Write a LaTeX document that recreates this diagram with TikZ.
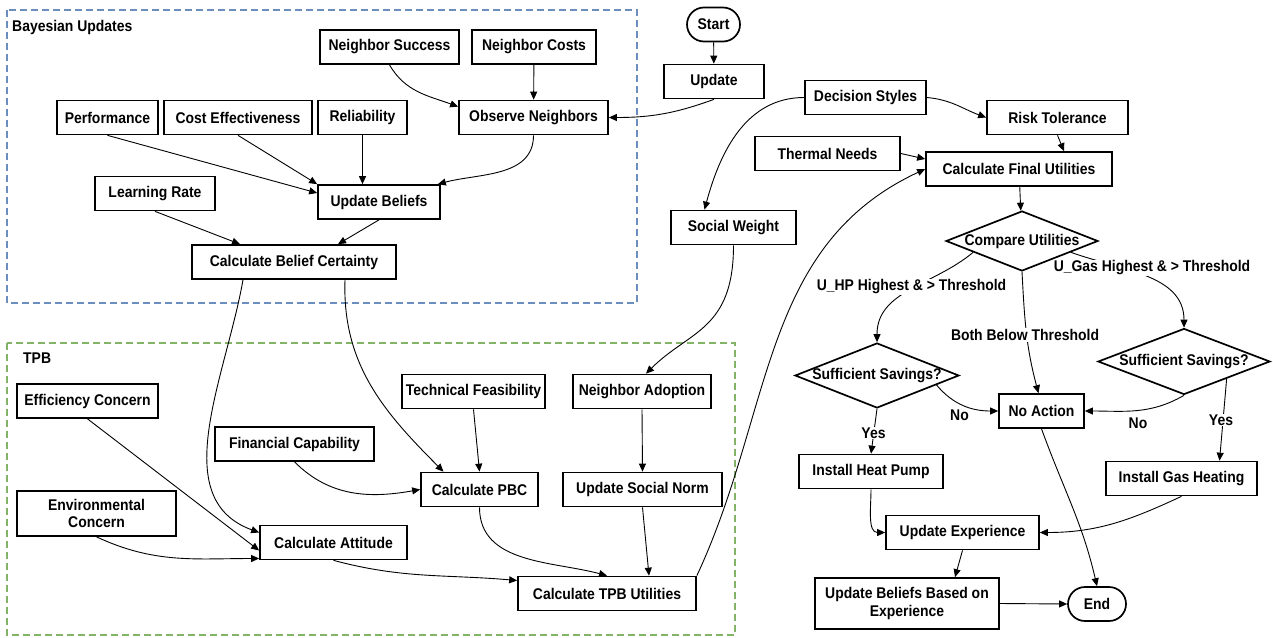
\documentclass[tikz,border=0pt]{standalone}
\usepackage{fontspec}
\setmainfont{Liberation Sans}[FakeStretch=0.9]
\usetikzlibrary{arrows.meta,shapes.geometric}
\definecolor{bayesblue}{HTML}{6C8EBF}
\definecolor{tpbgreen}{HTML}{82B366}

\begin{document}
\begin{tikzpicture}[x=1pt,y=1pt]
\tikzset{
  flowbox/.style={rectangle,draw=black,line width=1.7pt,minimum height=34pt,inner xsep=2pt,inner ysep=1pt,align=center,font=\bfseries\fontsize{15.5}{17.5}\selectfont},
  terminal/.style={flowbox,rounded corners=17pt},
  decision/.style={diamond,draw=black,line width=1.7pt,inner sep=0pt,font=\bfseries\fontsize{15.5}{17.5}\selectfont},
  grouplabel/.style={anchor=west,inner sep=0pt,font=\bfseries\fontsize{15.5}{17.5}\selectfont},
  edgelabel/.style={fill=white,inner sep=1pt,font=\bfseries\fontsize{15.5}{17.5}\selectfont},
  flowedge/.style={draw=black,line width=0.9pt},
  directed/.style={flowedge,-{Triangle[length=8pt,width=7pt]}},
  groupframe/.style={line width=1.5pt,dash pattern=on 7pt off 4pt}
}
\useasboundingbox (0,0) rectangle (1273,-637);
\draw[groupframe,draw=bayesblue] (7,-10) rectangle (637,-303);
\draw[groupframe,draw=tpbgreen] (7,-343) rectangle (735,-635);
\node[grouplabel] (g_bayes) at (12,-27) {Bayesian Updates};
\node[grouplabel] (g_tpb) at (23,-358) {TPB};
\node[flowbox,minimum width=139pt] (n_nsucc) at (389.5,-47) {Neighbor Success};
\node[flowbox,minimum width=124pt] (n_ncost) at (534,-47) {Neighbor Costs};
\node[flowbox,minimum width=101pt] (n_perf) at (107.5,-117.5) {Performance};
\node[flowbox,minimum width=148pt] (n_costeff) at (238,-117.5) {Cost Effectiveness};
\node[flowbox,minimum width=89pt] (n_reli) at (362.5,-117.5) {Reliability};
\node[flowbox,minimum width=149pt] (n_obs) at (533.5,-117.5) {Observe Neighbors};
\node[flowbox,minimum width=120pt] (n_lrate) at (155,-193.5) {Learning Rate};
\node[flowbox,minimum width=122pt] (n_ubel) at (379,-202) {Update Beliefs};
\node[flowbox,minimum width=204pt] (n_bcert) at (294,-262) {Calculate Belief Certainty};
\node[terminal,minimum width=53pt] (n_start) at (713.5,-24.5) {Start};
\node[flowbox,minimum width=100pt] (n_update) at (714,-81.5) {Update};
\node[flowbox,minimum width=121pt] (n_dstyle) at (865.5,-97.5) {Decision Styles};
\node[flowbox,minimum width=141pt] (n_risk) at (1057.5,-117.5) {Risk Tolerance};
\node[flowbox,minimum width=145pt] (n_thermal) at (827.5,-153.5) {Thermal Needs};
\node[flowbox,minimum width=186pt] (n_final) at (1019,-169) {Calculate Final Utilities};
\node[flowbox,minimum width=125pt] (n_sweight) at (733.5,-227.5) {Social Weight};
\node[decision,minimum width=152pt,minimum height=60pt] (n_compare) at (1022,-241) {\makebox[0pt]{Compare Utilities}};
\node[flowbox,minimum width=141pt] (n_effc) at (87.5,-401) {Efficiency Concern};
\node[flowbox,minimum width=159pt,minimum height=45pt] (n_envc) at (96.5,-513.5) {Environmental\\Concern};
\node[flowbox,minimum width=159pt] (n_finc) at (294.5,-444) {Financial Capability};
\node[flowbox,minimum width=143pt] (n_techf) at (473.5,-391.5) {Technical Feasibility};
\node[flowbox,minimum width=138pt] (n_nadopt) at (642,-391.5) {Neighbor Adoption};
\node[flowbox,minimum width=117pt] (n_pbc) at (479.5,-489.5) {Calculate PBC};
\node[flowbox,minimum width=159pt] (n_snorm) at (642.5,-489.5) {Update Social Norm};
\node[flowbox,minimum width=147pt] (n_att) at (333.5,-542.5) {Calculate Attitude};
\node[flowbox,minimum width=178pt] (n_tpbu) at (607,-593.5) {Calculate TPB Utilities};
\node[decision,minimum width=164pt,minimum height=65pt] (n_suffhp) at (877,-375.5) {\makebox[0pt]{Sufficient Savings?}};
\node[decision,minimum width=172pt,minimum height=66pt] (n_suffgas) at (1184,-361.5) {\makebox[0pt]{Sufficient Savings?}};
\node[flowbox,minimum width=85pt] (n_noact) at (1041.5,-411) {No Action};
\node[flowbox,minimum width=144pt] (n_ihp) at (871,-471.5) {Install Heat Pump};
\node[flowbox,minimum width=151pt] (n_igas) at (1181.5,-478.5) {Install Gas Heating};
\node[flowbox,minimum width=153pt] (n_uexp) at (962.5,-532.5) {Update Experience};
\node[flowbox,minimum width=184pt,minimum height=51pt] (n_ubexp) at (907,-603.5) {Update Beliefs Based on\\Experience};
\node[terminal,minimum width=58pt] (n_end) at (1097,-604) {End};
\draw[directed] (n_start) -- (n_update);
\draw[directed] (n_update.south) to[out=200,in=0] (n_obs.east);
\draw[directed] (n_nsucc.south) to[out=-60,in=160] ([yshift=-7pt]n_obs.north west);
\draw[directed] (n_ncost) -- (n_obs);
\draw[directed] (n_perf.south) -- ([yshift=9pt]n_ubel.west);
\draw[directed] (n_costeff.south) -- (n_ubel.north west);
\draw[directed] (n_reli.south) -- (n_reli.south |- n_ubel.north);
\draw[directed] (n_obs.south) to[out=-90,in=15] ([xshift=-3pt]n_ubel.north east);
\draw[directed] (n_lrate.south) -- ([xshift=-54pt]n_bcert.north);
\draw[directed] (n_ubel.south) -- ([xshift=44pt]n_bcert.north);
\draw[directed] ([xshift=-51pt]n_bcert.south) to[out=-100,in=160] ([yshift=10pt]n_att.west);
\draw[directed] ([xshift=51pt]n_bcert.south) to[out=-92,in=135] ([xshift=-36pt]n_pbc.north);
\draw[directed] (n_dstyle.west) to[out=180,in=75] ([xshift=-29pt]n_sweight.north);
\draw[directed] (n_dstyle.east) to[out=-5,in=160] (n_risk.west);
\draw[directed] (n_risk.south) -- ([xshift=45pt]n_final.north);
\draw[directed] (n_thermal.east) -- ([yshift=10pt]n_final.west);
\draw[directed] (n_tpbu.north east) to[out=65,in=205] (n_final.west);
\draw[directed] (n_final) -- (n_compare);
\draw[directed] (n_sweight.south) to[out=-90,in=45,out looseness=1.4] ([xshift=4pt]n_nadopt.north);
\draw[directed] (n_effc.south) -- ([yshift=-8pt]n_att.west);
\draw[directed] (n_envc.south) to[out=-25,in=180] ([yshift=-16pt]n_att.west);
\draw[directed] (n_finc.south) to[out=-45,in=190] (n_pbc.west);
\draw[directed] (n_techf.south) -- (n_pbc.north);
\draw[directed] (n_nadopt.south) -- (n_snorm.north);
\draw[directed] (n_pbc.south) to[out=-90,in=165] (n_tpbu.north);
\draw[directed] (n_snorm.south) -- ([xshift=42pt]n_tpbu.north);
\draw[directed] (n_att.south) to[out=-15,in=175] ([yshift=13pt]n_tpbu.west);
\draw[directed] (n_compare.193) to[out=-140,in=90] (n_suffhp.north);
\draw[directed] (n_compare.-13) to[out=-20,in=90] (n_suffgas.north);
\draw[directed] (n_compare.south) to[out=-87,in=105] ([xshift=-3pt]n_noact.north);
\draw[directed] (n_suffhp.-9) to[out=-50,in=180] (n_noact.west);
\draw[directed] (n_suffgas.south) to[out=-150,in=0] (n_noact.east);
\draw[directed] (n_suffhp.south) -- (n_ihp.north);
\draw[directed] (n_suffgas.-22) -- ([xshift=38pt]n_igas.north);
\draw[directed] (n_ihp.south) to[out=-90,in=180] (n_uexp.west);
\draw[directed] (n_igas.south) to[out=-155,in=0] (n_uexp.east);
\draw[directed] (n_uexp.south) -- ([xshift=48pt]n_ubexp.north);
\draw[directed] (n_ubexp.east) -- (n_end.west);
\draw[directed] (n_noact.south) to[out=-70,in=103] (n_end.north);
\node[edgelabel] (l_hp) at (911.5,-287) {U\_HP Highest \& > Threshold};
\node[edgelabel] (l_gas) at (1152,-268) {U\_Gas Highest \& > Threshold};
\node[edgelabel] (l_below) at (1025,-335) {Both Below Threshold};
\node[edgelabel] (l_nohp) at (959.5,-415) {No};
\node[edgelabel] (l_nogas) at (1138,-423) {No};
\node[edgelabel] (l_yeshp) at (873.5,-433) {Yes};
\node[edgelabel] (l_yesgas) at (1221,-420) {Yes};
\end{tikzpicture}
\end{document}
